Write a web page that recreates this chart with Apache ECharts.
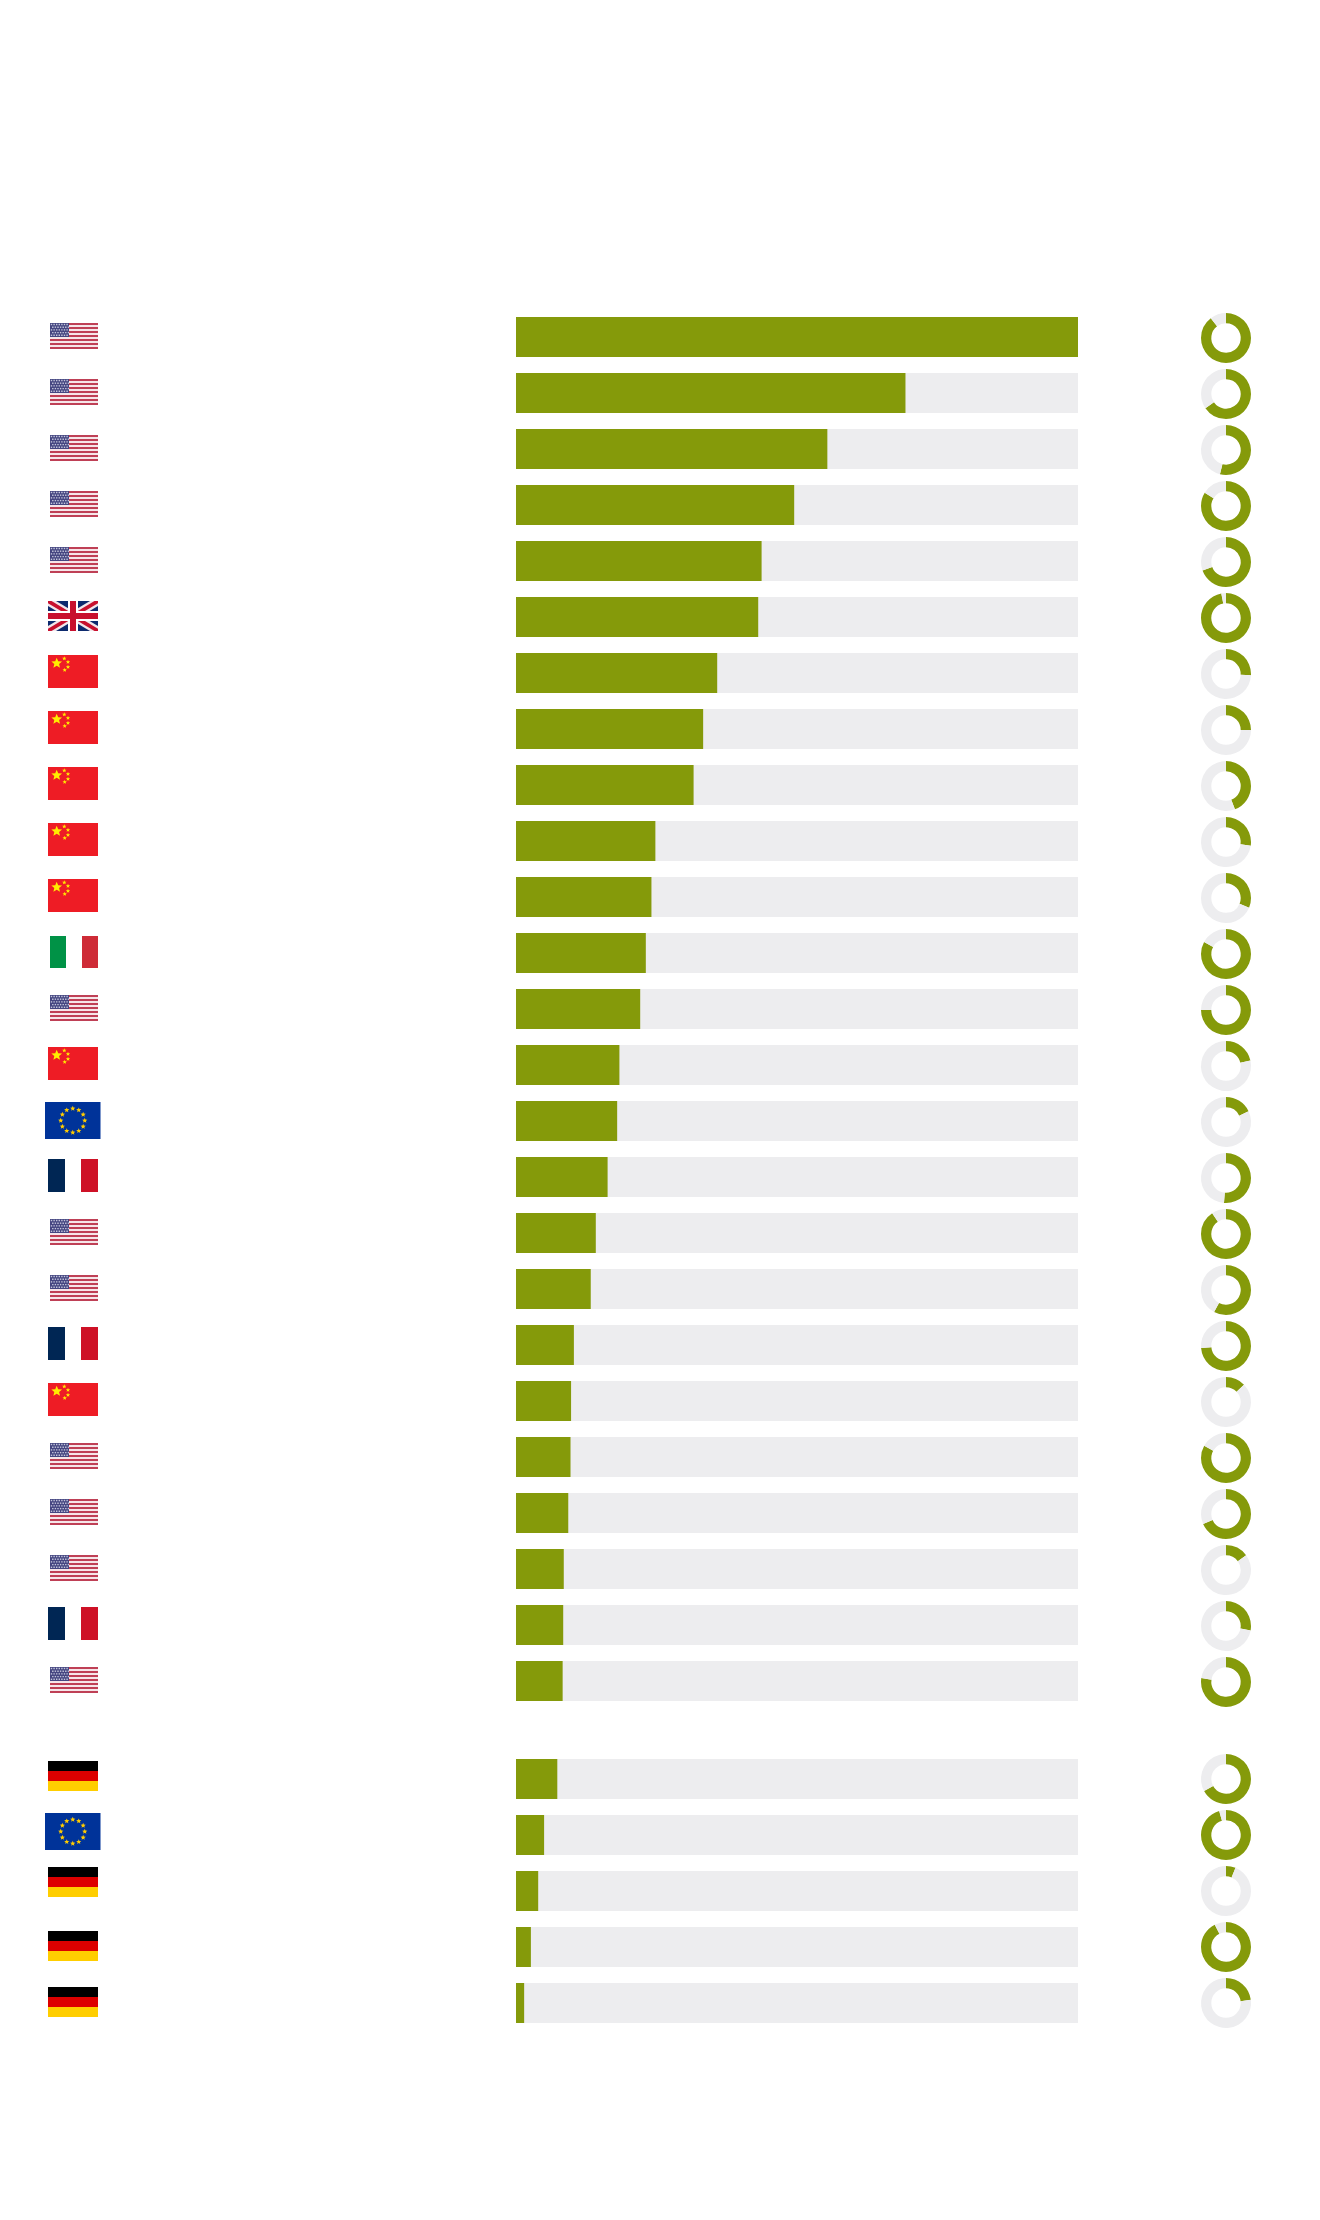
<!DOCTYPE html>
<html>
<head>
<meta charset="utf-8">
<style>html,body{margin:0;padding:0;background:#fff}#c{width:1320px;height:2220px}</style>
<script src="https://cdn.jsdelivr.net/npm/echarts@6/dist/echarts.min.js"></script>
</head>
<body>
<div id="c"></div>
<script>
// ---- values ----
const flagsA = ['US','US','US','US','US','UK','CN','CN','CN','CN','CN','IT','US','CN','EU','FR','US','US','FR','CN','US','US','US','FR','US'];
const barsA  = [100,69.3,55.4,49.5,43.7,43.1,35.8,33.3,31.6,24.8,24.1,23.1,22.1,18.4,18.0,16.3,14.2,13.3,10.3,9.8,9.7,9.3,8.5,8.4,8.3];
const ringsA = [89.6,65.4,53.9,83.8,69.4,97,25.8,25,44.2,27.4,31.3,83,75,21.5,17.9,51.3,90.7,57.9,73.7,12.8,83.1,68.4,14.9,27.8,77.5];
const flagsB = ['DE','EU','DE','DE','DE'];
const barsB  = [7.35,5.0,3.95,2.65,1.45];
const ringsB = [67,95.6,6.2,92.6,23];

const GREEN = '#859a0a', GREY = '#ededef';
const PITCH = 56, BAR_H = 40, PLOT_L = 516, PLOT_W = 562;
const TOP_A = 317, TOP_B = 1759;

// Flag boxes, relative to the plot's left edge and the row's centre.
const FLAG_BOX = {
  US:{dx:-466,dy:-14,w:48,h:26}, UK:{dx:-468,dy:-16,w:50,h:30}, CN:{dx:-468,dy:-18,w:50,h:33},
  IT:{dx:-466,dy:-17,w:48,h:32}, EU:{dx:-471,dy:-19,w:55.5,h:37}, FR:{dx:-468,dy:-18,w:50,h:33},
  DE:{dx:-468,dy:-16,w:50,h:30}
};
const NUDGE_B = [-2,-3,-8,0,0];

function rect(x,y,w,h,fill){return {type:'rect',shape:{x,y,width:w,height:h},style:{fill}};}
function star(cx,cy,r,fill){
  const pts=[];
  for(let i=0;i<10;i++){
    const a=-Math.PI/2+i*Math.PI/5, q=i%2?r*0.45:r;
    pts.push([cx+q*Math.cos(a),cy+q*Math.sin(a)]);
  }
  return {type:'polygon',shape:{points:pts},style:{fill}};
}
function diag(x,y,w,h,a,b,fill,mirror){
  const p=[[0,0],[a,0],[w,h-b],[w,h],[w-a,h],[0,b]];
  return {type:'polygon',shape:{points:p.map(q=>[x+(mirror?w-q[0]:q[0]),y+q[1]])},style:{fill}};
}
const DRAW = {
  US(x,y,w,h){
    const c=[rect(x,y,w,h,'#f6e6e9')], s=h/13;
    for(let i=0;i<13;i+=2)c.push(rect(x,y+i*s,w,s,'#bf4056'));
    c.push(rect(x,y,19,14,'#454681'));
    for(let r=0;r<5;r++)for(let k=0;k<7;k++)
      c.push(rect(x+0.8+k*2.6+(r%2?1.3:0),y+0.8+r*2.7,1.4,1.4,'#c4c6dc'));
    return c;
  },
  UK(x,y,w,h){
    return [rect(x,y,w,h,'#0d2a6e'),
      diag(x,y,w,h,8,5,'#f2e6ea',false),diag(x,y,w,h,8,5,'#f2e6ea',true),
      diag(x,y,w,h,3.5,2.2,'#c8102e',false),diag(x,y,w,h,3.5,2.2,'#c8102e',true),
      rect(x+w/2-5,y,10,h,'#fff'),rect(x,y+h/2-5,w,10,'#fff'),
      rect(x+w/2-3,y,6,h,'#c8102e'),rect(x,y+h/2-3,w,6,'#c8102e')];
  },
  CN(x,y,w,h){
    const c=[rect(x,y,w,h,'#ee1c25'),star(x+8.7,y+8.3,5.6,'#ffed00')];
    [[16.3,3.5],[20,7],[20,12],[16.7,15]].forEach(p=>c.push(star(x+p[0],y+p[1],2.3,'#ffed00')));
    return c;
  },
  IT(x,y,w,h){return [rect(x,y,16,h,'#009246'),rect(x+16,y,16,h,'#fff'),rect(x+32,y,16,h,'#ce2b37')];},
  FR(x,y,w,h){return [rect(x,y,17,h,'#002654'),rect(x+17,y,16,h,'#fff'),rect(x+33,y,17,h,'#ce1126')];},
  DE(x,y,w,h){return [rect(x,y,w,10,'#000'),rect(x,y+10,w,10,'#dd0000'),rect(x,y+20,w,10,'#ffce00')];},
  EU(x,y,w,h){
    const c=[rect(x,y,w,h,'#003399')], cx=x+w/2, cy=y+h/2;
    for(let i=0;i<12;i++){
      const a=i*Math.PI/6;
      c.push(star(cx+12*Math.sin(a),cy-12*Math.cos(a),2.7,'#ffcc00'));
    }
    return c;
  }
};

function flagSeries(flags,gridIndex,nudge){
  return {
    type:'custom',xAxisIndex:gridIndex,yAxisIndex:gridIndex,silent:true,
    data:flags.map((f,i)=>[0,i]),
    encode:{x:0,y:1},
    renderItem(params,api){
      const code=flags[params.dataIndex], b=FLAG_BOX[code];
      const p=api.coord([0,api.value(1)]);
      const n=nudge?nudge[params.dataIndex]:0;
      return {type:'group',children:DRAW[code](p[0]+b.dx,p[1]+b.dy+n,b.w,b.h)};
    }
  };
}
function barSeries(vals,gridIndex){
  return {
    type:'bar',xAxisIndex:gridIndex,yAxisIndex:gridIndex,silent:true,
    barWidth:BAR_H,data:vals,itemStyle:{color:GREEN},
    showBackground:true,backgroundStyle:{color:GREY}
  };
}
function ringSeries(vals,top,off){
  return vals.map((v,i)=>({
    type:'pie',silent:true,center:[1226,top+off+PITCH*i],radius:[14.7,25],
    startAngle:90,clockwise:true,label:{show:false},labelLine:{show:false},
    emphasis:{disabled:true},
    data:[
      {value:v,itemStyle:{color:GREEN,borderWidth:0}},
      {value:100-v,itemStyle:{color:GREY,borderWidth:0}}
    ]
  }));
}
const hidden={show:false};
function xA(g){return {type:'value',gridIndex:g,min:0,max:100,show:false,splitLine:hidden};}
function yA(g,flags){return {type:'category',gridIndex:g,inverse:true,show:false,data:flags.map((f,i)=>(i+1)+' '+f)};}

const chart=echarts.init(document.getElementById('c'),null,{renderer:'canvas',width:1320,height:2220});
chart.setOption({
  animation:false,
  backgroundColor:'#ffffff',
  grid:[
    {left:PLOT_L,width:PLOT_W,top:TOP_A-(PITCH-BAR_H)/2,height:flagsA.length*PITCH},
    {left:PLOT_L,width:PLOT_W,top:TOP_B-(PITCH-BAR_H)/2,height:flagsB.length*PITCH}
  ],
  xAxis:[xA(0),xA(1)],
  yAxis:[yA(0,flagsA),yA(1,flagsB)],
  series:[
    barSeries(barsA,0),barSeries(barsB,1),
    flagSeries(flagsA,0),flagSeries(flagsB,1,NUDGE_B),
    ...ringSeries(ringsA,TOP_A,21),...ringSeries(ringsB,TOP_B,20)
  ]
});
</script>
</body>
</html>
